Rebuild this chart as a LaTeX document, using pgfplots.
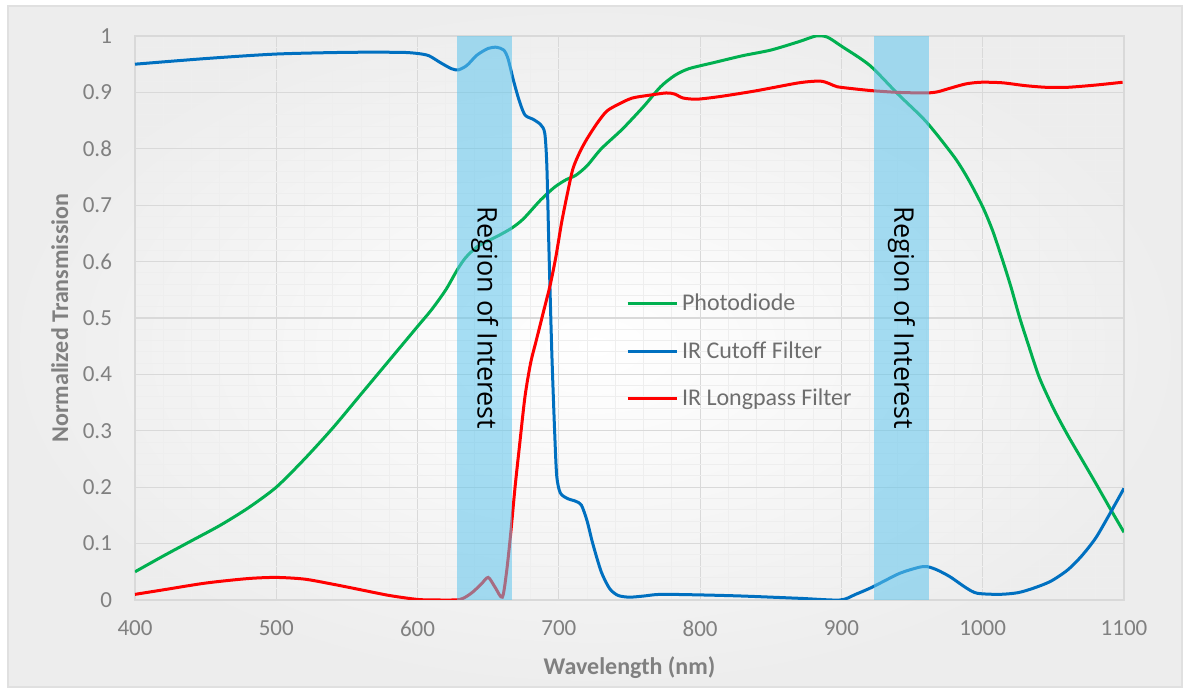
\documentclass[border=0pt]{standalone}
\usepackage{pgfplots}
\pgfplotsset{compat=1.18}
\usepackage{fontspec}
\setmainfont{Carlito}
\newfontfamily\roifont{Open Sans}
\definecolor{cgreen}{RGB}{0,176,80}
\definecolor{cblue}{RGB}{0,112,192}
\definecolor{cred}{RGB}{255,0,0}
\definecolor{band}{RGB}{95,197,237}
\definecolor{tgray}{RGB}{128,128,128}
\definecolor{lgray}{RGB}{110,110,110}
\definecolor{majgrid}{RGB}{217,217,217}
\definecolor{mingrid}{RGB}{238,238,238}
\begin{document}
\begin{tikzpicture}
\path[use as bounding box] (-67.5pt,-47.5pt) rectangle (527.5pt,300pt);
\shade[inner color=white, outer color=black!7, draw=black!12, line width=0.8pt] (-63.5pt,-43.5pt) rectangle (523.5pt,297pt);
\begin{axis}[
  scale only axis, width=494.5pt, height=282pt,
  xmin=400, xmax=1100, ymin=0, ymax=1,
  xtick={400,500,...,1100}, ytick={0,0.1,...,1.0},
  minor x tick num=4, minor y tick num=4,
  grid=both,
  major grid style={majgrid, line width=0.6pt},
  minor grid style={mingrid, line width=0.5pt},
  axis line style={majgrid, line width=0.6pt},
  major tick length=0pt, minor tick length=0pt,
  tick label style={font=\fontsize{11.5}{13}\selectfont, text=tgray},
  /pgf/number format/assume math mode=true,
  /pgf/number format/1000 sep={},
  xticklabel style={yshift=-7pt},
  yticklabel style={xshift=-8pt},
  xlabel={Wavelength (nm)}, ylabel={Normalized Transmission},
  every axis x label/.style={at={(axis description cs:0.5,-0.12)}, anchor=center,
    font=\fontsize{12}{14}\selectfont\bfseries, text=tgray},
  every axis y label/.style={at={(axis description cs:-0.076,0.5)}, rotate=90, anchor=center,
    font=\fontsize{12}{14}\selectfont\bfseries, text=tgray},
  legend style={at={(axis description cs:0.49,0.558)}, anchor=north west, draw=none, fill=none,
    font=\fontsize{12}{14}\selectfont, text=lgray, row sep=10pt},
  legend cell align=left,
  legend image code/.code={\draw[#1, line width=1.5pt] (0pt,0pt) -- (24.5pt,0pt);},
  every axis plot/.append style={line width=1.5pt, smooth, tension=0.45},
]
\addplot[cgreen] table {
400 0.05
420 0.078
440 0.105
460 0.132
480 0.163
500 0.20
520 0.25
540 0.305
560 0.365
580 0.425
600 0.485
610 0.515
620 0.55
628 0.585
634 0.607
642 0.626
650 0.637
658 0.647
667 0.66
675 0.676
687 0.709
697 0.732
705 0.745
712 0.753
720 0.77
730 0.80
745 0.835
760 0.875
772 0.91
782 0.93
792 0.942
810 0.953
830 0.965
850 0.975
870 0.99
882 1.0
890 0.998
900 0.982
920 0.948
940 0.897
960 0.848
980 0.785
990 0.745
1000 0.697
1007 0.655
1014 0.603
1020 0.555
1026 0.502
1032 0.455
1040 0.395
1050 0.34
1060 0.293
1070 0.25
1080 0.207
1090 0.163
1100 0.12
};
\addlegendentry{Photodiode}
\addplot[cblue] table {
400 0.95
450 0.96
500 0.968
550 0.971
588 0.971
600 0.969
608 0.965
616 0.953
624 0.942
629 0.94
635 0.948
642 0.966
650 0.978
656 0.98
661 0.975
664 0.96
668 0.92
672 0.885
676 0.86
682 0.852
687 0.843
690 0.828
691.5 0.77
693 0.62
695 0.44
697 0.3
698.5 0.22
701 0.19
706 0.18
712 0.175
716 0.168
720 0.14
724 0.1
730 0.05
736 0.02
742 0.008
750 0.005
760 0.007
772 0.01
800 0.009
830 0.007
870 0.003
899 0.0
910 0.01
922 0.023
941 0.047
955 0.058
961 0.059
968 0.053
977 0.041
988 0.022
996 0.012
1012 0.01
1025 0.013
1036 0.021
1048 0.033
1060 0.053
1070 0.078
1080 0.11
1090 0.153
1100 0.198
};
\addlegendentry{IR Cutoff Filter}
\addplot[cred] table {
400 0.01
420 0.018
450 0.03
480 0.038
500 0.04
520 0.037
540 0.028
560 0.018
580 0.008
600 0.001
615 0.0
630 0.001
638 0.012
645 0.028
650 0.04
655 0.022
660 0.005
663 0.05
666 0.12
669 0.2
672 0.27
676 0.36
680 0.42
684 0.46
689 0.51
694 0.56
698 0.61
702 0.67
706 0.72
710 0.765
715 0.795
720 0.818
727 0.845
734 0.867
743 0.88
752 0.89
764 0.895
776 0.899
782 0.897
788 0.89
798 0.888
815 0.893
840 0.903
870 0.917
885 0.92
892 0.915
897 0.91
910 0.906
922 0.903
940 0.9
960 0.899
968 0.901
975 0.906
988 0.915
999 0.918
1014 0.917
1030 0.912
1045 0.909
1060 0.909
1080 0.913
1099 0.918
};
\addlegendentry{IR Longpass Filter}
\addplot[draw=none, fill=band, fill opacity=0.55, sharp plot, forget plot] coordinates {(628,0) (628,1) (667,1) (667,0)} -- cycle;
\addplot[draw=none, fill=band, fill opacity=0.55, sharp plot, forget plot] coordinates {(923,0) (923,1) (962,1) (962,0)} -- cycle;
\node[rotate=-90, font=\roifont\fontsize{13.5}{16}\selectfont, text=black] at (axis cs:647.5,0.5) {Region of Interest};
\node[rotate=-90, font=\roifont\fontsize{13.5}{16}\selectfont, text=black] at (axis cs:942.5,0.5) {Region of Interest};
\end{axis}
\end{tikzpicture}
\end{document}
